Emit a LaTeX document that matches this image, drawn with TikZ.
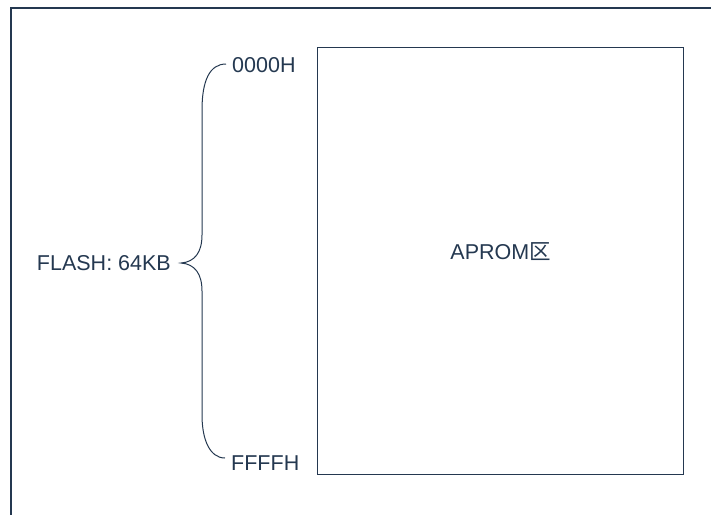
\documentclass[tikz,border=0pt]{standalone}
\usepackage{fontspec}
\setmainfont{Liberation Sans}
\newfontfamily\cjk{Noto Sans CJK SC}
\usepackage{xcolor}
\usepackage{tikz}
\usetikzlibrary{positioning}
\definecolor{ink}{RGB}{36,56,80}
\begin{document}
\begin{tikzpicture}[x=1pt,y=-1pt,
        line/.style={draw=ink,line width=1.3pt},
        lbl/.style={text=ink,font=\fontsize{21.5}{24}\selectfont,inner sep=0pt}]
        \useasboundingbox (0,0) rectangle (711,515);
        % frame
        \draw[line,line width=1.6pt] (711,8) -- (11,8) -- (11,515);
        % memory block
        \node[line,minimum width=366pt,minimum height=427pt,anchor=north west,
              lbl,inner sep=0pt] (mem) at (317,47) {};
        \node[lbl] (area) at (mem.center) [yshift=10pt] {APROM{\cjk 区}};
        % addresses
        \node[lbl,anchor=west] (addrTop) at (232,65) {0000H};
        \node[lbl,anchor=west] (addrBot) at (231,463) {FFFFH};
        \node[lbl,anchor=east] (flash) at (171,263) {FLASH: 64KB};
        \coordinate (tip) at (181,263);
        % brace
        \draw[line,line width=1pt] ([xshift=-6pt,yshift=1pt]addrTop.west)
            .. controls (210,64) and (202,80) .. (202,110) -- (202,235)
            .. controls (202,252) and (195,262) .. (tip)
            .. controls (195,264) and (202,274) .. (202,291) -- (202,415)
            .. controls (202,440) and (210,458) .. ([xshift=-6pt,yshift=5pt]addrBot.west);
\end{tikzpicture}
\end{document}
